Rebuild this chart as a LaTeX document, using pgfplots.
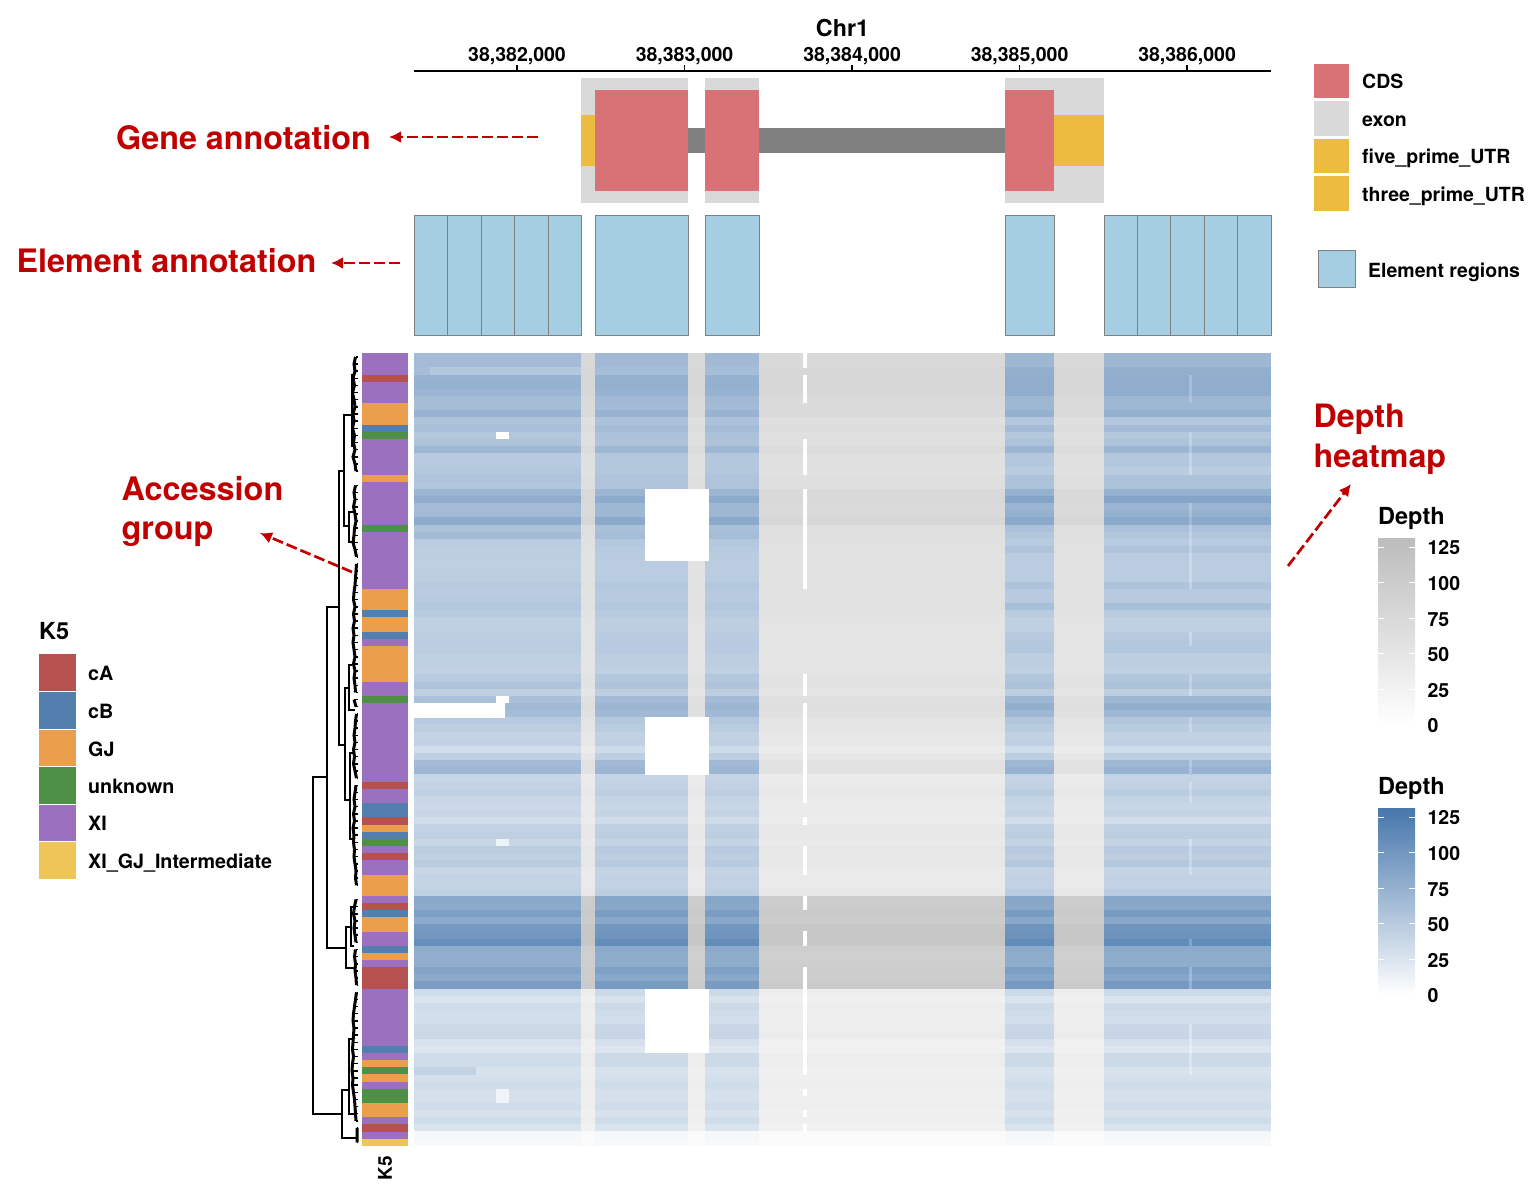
\documentclass[border=0pt]{standalone}
\usepackage{fontspec}
\setmainfont{TeX Gyre Heros}
\usepackage{pgfplots}
\usepackage{pgfplotstable}
\pgfplotsset{compat=1.18}
\usetikzlibrary{arrows.meta}
\definecolor{annot}{HTML}{C00000}
\definecolor{cds}{HTML}{D87276}
\definecolor{exon}{HTML}{D9D9D9}
\definecolor{utr}{HTML}{EBBC3F}
\definecolor{intron}{HTML}{808080}
\definecolor{elem}{HTML}{A6CEE3}
\definecolor{cA}{HTML}{B7514F}
\definecolor{cB}{HTML}{537FAE}
\definecolor{GJ}{HTML}{EB9E4C}
\definecolor{unk}{HTML}{4E9146}
\definecolor{XI}{HTML}{9B70BF}
\definecolor{XG}{HTML}{EFC557}
\newcommand\fs[1]{\fontsize{#1}{#1}\selectfont\bfseries}
\newcommand\cellmark[2]{\pgfdeclareplotmark{#1}{\pgfpathrectangle{\pgfpoint{-#2pt/2}{-3.72pt}}{\pgfpoint{#2pt}{7.44pt}}\pgfusepathqfill}}
\cellmark{cellA}{167}\cellmark{cellB}{14}\cellmark{cellC}{93}\cellmark{cellD}{17}\cellmark{cellE}{54}
\cellmark{cellF}{246}\cellmark{cellG}{49}\cellmark{cellH}{50}\cellmark{cellI}{167}
\cellmark{cellHole}{64}\cellmark{cellBar}{91}\cellmark{cellDot}{13}\cellmark{cellLine}{4.6}\cellmark{cellLeft}{16}\cellmark{cellSpan}{62}\cellmark{cellStreak}{2.5}
\newcommand\cellplot[4]{\addplot[scatter,only marks,mark=#1,scatter src=explicit,scatter/use mapped color={draw=none,fill=mapped color}] table[x expr=#2,y=i,meta=#3] {#4};}
\newcommand\rect[5]{\addplot[fill=#1,draw=none] coordinates {(#2,#3)(#4,#3)(#4,#5)(#2,#5)} --cycle;}
\newcommand\erect[2]{\addplot[fill=elem,draw=intron,line width=0.8pt] coordinates {(#1,0)(#2,0)(#2,120)(#1,120)} --cycle;}
\newcommand\seg[3]{\addplot[fill=#1,draw=none] coordinates {(0,#2)(1,#2)(1,#3)(0,#3)} --cycle;}
\newcommand\bracket[5]{\addplot[black,line width=2pt,line join=miter] coordinates {(#4,#2)(#1,#2)(#1,#3)(#5,#3)};}
\pgfplotstableread{
i a c g f
0 65 67 69 75
1 65 67 69 75
2 53 63 77 78
3 73 75 79 79
4 75 76 79 79
5 71 73 79 79
6 63 67 69 72
7 63 65 69 72
8 73 73 75 72
9 58 59 55 60
10 61 63 65 66
11 53 59 53 60
12 57 57 58 62
13 69 69 71 68
14 51 53 53 60
15 51 53 53 60
16 53 53 49 58
17 57 57 58 62
18 55 57 58 62
19 71 71 75 74
20 79 81 87 76
21 65 69 71 72
22 65 69 75 72
23 81 83 83 78
24 59 61 60 62
25 65 63 55 60
26 49 53 50 58
27 47 51 57 58
28 47 49 49 56
29 45 49 49 56
30 47 49 49 56
31 47 49 49 56
32 51 53 57 58
33 49 51 51 56
34 51 51 51 56
35 55 55 62 58
36 51 51 50 56
37 45 47 45 52
38 45 47 45 52
39 47 49 51 52
40 49 51 54 52
41 49 51 53 52
42 45 47 47 50
43 45 47 47 50
44 43 45 45 50
45 51 53 55 54
46 57 57 59 56
47 45 47 47 50
48 61 65 69 60
49 67 71 77 62
50 63 67 69 60
51 51 53 55 52
52 47 49 50 50
53 41 43 43 46
54 43 45 45 46
55 33 35 34 38
56 45 47 47 46
57 65 67 69 56
58 69 71 73 56
59 39 41 41 40
60 41 43 43 42
61 45 47 49 44
62 39 41 41 42
63 37 39 39 40
64 39 41 41 42
65 33 35 33 38
66 43 45 45 44
67 45 47 47 44
68 39 41 41 42
69 49 51 51 46
70 45 47 47 44
71 49 51 53 46
72 39 41 41 42
73 41 43 43 42
74 41 43 43 42
75 45 47 49 44
76 84 86 86 100
77 82 84 84 100
78 92 94 96 104
79 82 84 84 100
80 98 100 102 110
81 100 102 104 112
82 108 110 112 112
83 80 82 82 96
84 78 80 80 94
85 78 80 80 94
86 88 90 92 100
87 82 84 86 98
88 94 96 98 102
89 34 36 36 36
90 26 28 26 30
91 34 36 36 36
92 32 34 34 34
93 32 32 32 34
94 36 38 38 36
95 38 40 40 38
96 28 30 30 30
97 24 24 24 28
98 34 36 36 36
99 34 36 36 36
100 28 28 28 30
101 30 30 30 32
102 34 34 34 34
103 30 30 30 32
104 30 30 30 32
105 34 34 34 34
106 28 28 28 30
107 34 34 34 32
108 26 26 26 28
109 7 7 7 8
110 6 6 6 7
}\heat
% zero / low depth cells: rows, depth
\pgfplotstableread{
i d
19 0
20 0
21 0
22 0
23 0
24 0
25 0
26 0
27 0
28 0
51 0
52 0
53 0
54 0
55 0
56 0
57 0
58 0
89 0
90 0
91 0
92 0
93 0
94 0
95 0
96 0
97 0
}\holes
\pgfplotstableread{
i d
0 0
1 0
3 0
4 0
5 0
6 0
12 0
13 0
14 0
15 0
16 0
19 0
20 0
21 0
22 0
23 0
24 0
25 0
26 0
27 0
28 0
29 0
30 0
31 0
32 0
45 0
46 0
47 0
49 0
50 0
51 0
52 0
53 0
54 0
55 0
56 0
57 0
58 0
59 0
60 0
61 0
62 0
65 0
69 0
70 0
71 0
72 0
76 0
77 0
81 0
82 0
86 0
87 0
88 0
89 0
90 0
91 0
92 0
93 0
94 0
95 0
96 0
97 0
98 0
99 0
100 0
103 0
106 0
108 0
}\gapline
\pgfplotstableread{
i d
49 0
50 0
}\whitebar
\pgfplotstableread{
i d
11 0
48 0
68 12
103 10
104 10
}\dots
\pgfplotstableread{
i d
2 63
}\lefttip
\pgfplotstableread{
i d
100 42
}\spantip
% lighter narrow bin near 38,386,020
\pgfplotstableread{
i d
3 62
4 62
5 62
6 56
11 42
12 44
13 54
14 40
15 40
16 36
21 56
22 60
23 68
24 46
25 42
26 38
27 44
28 36
29 36
30 36
31 36
32 42
39 36
40 40
45 42
46 44
47 34
51 42
52 38
57 52
58 56
60 32
61 38
62 32
68 30
69 38
70 36
71 40
72 32
82 88
86 70
87 66
88 74
94 24
95 26
96 20
97 16
98 24
99 24
100 20
}\streak
% dendrogram leaves: row, height of the leaf branch
\pgfplotstableread{
y h
0.5 2.5
1.5 4
2.5 3
3.5 5
4.5 3.5
5.5 5.5
6.5 4
7.5 3
8.5 5
9.5 4
10.5 5.5
11.5 3.5
12.5 4.5
13.5 3
14.5 5
15.5 3
16.5 2
nan nan
18.5 2.5
19.5 4
20.5 3
21.5 4.5
22.5 3
23.5 2
24.5 3.5
25.5 4
26.5 5
27.5 3
28.5 1.5
nan nan
29.5 1.5
30.5 2
31.5 2.5
32.5 3
33.5 4
34.5 4.5
35.5 3
36.5 4.5
37.5 3.5
38.5 5
39.5 4
40.5 5
41.5 4
42.5 3
43.5 4.5
44.5 3
45.5 4
46.5 3
47.5 2.5
nan nan
48.5 4
49.5 2
nan nan
50.5 1.5
51.5 2.5
52.5 3
53.5 4
54.5 3
55.5 4.5
56.5 3.5
57.5 4.5
58.5 3
59.5 1.5
nan nan
60.5 2
61.5 3
62.5 4
63.5 3
64.5 4.5
65.5 3.5
66.5 5
67.5 4
68.5 4.5
69.5 3.5
70.5 4
71.5 3
72.5 2
73.5 2.5
74.5 1.5
nan nan
76.5 2
77.5 3.5
78.5 4.5
79.5 3
80.5 4
81.5 3
82.5 2
nan nan
83.5 2.5
84.5 3.5
85.5 2.5
86.5 3
87.5 2
88.5 1.5
nan nan
89.5 1.5
90.5 2.5
91.5 3.5
92.5 4.5
93.5 5
94.5 4
95.5 4.5
96.5 5
97.5 5.5
98.5 4.5
99.5 5.5
100.5 6
101.5 5
102.5 5.5
103.5 4.5
104.5 3.5
105.5 3
106.5 2.5
107.5 2
nan nan
108.5 1
109.5 1
110.5 1
}\leaves
\pgfplotsset{
  /pgf/number format/assume math mode=true,
  pane/.style={scale only axis,hide axis,clip=false},
  depthbar/.style={
    colorbar/width=37pt,
    colorbar style={
      width=37pt,height=188pt,
      at={(#1)},anchor=north west,
      ytick={0,25,50,75,100,125},
      ytick pos=both,yticklabel pos=right,
      tick align=inside,
      major tick length=6pt,
      tick style={draw=white,line width=0.8pt},
      axis line style={draw=none},
      yticklabel style={font=\fs{19.5},xshift=9pt,yshift=-1pt,/pgf/number format/assume math mode=true},
    }
  },
}
\begin{document}
\begin{tikzpicture}[x=1pt,y=1pt]
\useasboundingbox (0,0) rectangle (1540pt,-1194pt);
% ---------- page layer: legends and call-outs in pixel units
\begin{axis}[pane,width=1540pt,height=1194pt,at={(0pt,0pt)},anchor=north west,
  xmin=0,xmax=1540,ymin=0,ymax=1194,y dir=reverse]
\rect{cA}{39}{654}{76}{691}
\rect{cB}{39}{692}{76}{729}
\rect{GJ}{39}{729.5}{76}{766}
\rect{unk}{39}{767}{76}{804}
\rect{XI}{39}{804.5}{76}{841}
\rect{XG}{39}{842}{76}{879}
\rect{cds}{1314}{63.5}{1349}{98}
\rect{exon}{1314}{101}{1349}{135.5}
\rect{utr}{1314}{138.5}{1349}{173}
\rect{utr}{1314}{176}{1349}{210.5}
\addplot[fill=elem,draw=intron,line width=0.8pt] coordinates {(1318.5,250.5)(1355.5,250.5)(1355.5,287.5)(1318.5,287.5)} --cycle;
\node[anchor=west,inner sep=0pt,font=\fs{23.5}] at (39,631) {K5};
\node[anchor=west,inner sep=0pt,font=\fs{19.7}] at (88,673) {cA};
\node[anchor=west,inner sep=0pt,font=\fs{19.7}] at (88,711) {cB};
\node[anchor=west,inner sep=0pt,font=\fs{19.7}] at (88,749) {GJ};
\node[anchor=west,inner sep=0pt,font=\fs{19.7}] at (88,786) {unknown};
\node[anchor=west,inner sep=0pt,font=\fs{19.7}] at (88,823.5) {XI};
\node[anchor=west,inner sep=0pt,font=\fs{19.7}] at (88,863) {XI\_GJ\_Intermediate};
\node[anchor=west,inner sep=0pt,font=\fs{19.5}] at (1362,81) {CDS};
\node[anchor=west,inner sep=0pt,font=\fs{19.5}] at (1362,121) {exon};
\node[anchor=west,inner sep=0pt,font=\fs{19.5}] at (1362,158) {five\_prime\_UTR};
\node[anchor=west,inner sep=0pt,font=\fs{19.5}] at (1362,196) {three\_prime\_UTR};
\node[anchor=west,inner sep=0pt,font=\fs{19.5}] at (1368,272) {Element regions};
\node[anchor=west,inner sep=0pt,font=\fs{23.5}] at (1378,518) {Depth};
\node[anchor=west,inner sep=0pt,font=\fs{23.5}] at (1378,788) {Depth};
\node[rotate=90,inner sep=0pt,font=\fs{19}] at (385,1168) {K5};
\node[anchor=west,inner sep=0pt,font=\fs{32.3},text=annot] at (116,138) {Gene annotation};
\node[anchor=west,inner sep=0pt,font=\fs{32.3},text=annot] at (16.5,261) {Element annotation};
\node[anchor=west,inner sep=0pt,font=\fs{32.4},text=annot] at (121.5,489) {Accession};
\node[anchor=west,inner sep=0pt,font=\fs{32.4},text=annot] at (121.5,534) {group};
\node[anchor=west,inner sep=0pt,font=\fs{32.2},text=annot] at (1313.5,419) {Depth};
\node[anchor=west,inner sep=0pt,font=\fs{32.2},text=annot] at (1313.5,459) {heatmap};
\draw[annot,line width=2.7pt,dash pattern=on 11pt off 4pt,-{Latex[length=12pt,width=12pt]}] (538,137) -- (389,137);
\draw[annot,line width=2.7pt,dash pattern=on 11pt off 4pt,-{Latex[length=12pt,width=12pt]}] (400,263) -- (331,263);
\draw[annot,line width=2.7pt,dash pattern=on 11pt off 4pt,-{Latex[length=12pt,width=12pt]}] (352,572) -- (260,533);
\draw[annot,line width=2.7pt,dash pattern=on 11pt off 4pt,-{Latex[length=12pt,width=12pt]}] (1288,566) -- (1351,484);
\end{axis}
% ---------- genomic coordinate axis (x is bp above 38,380,000)
\begin{axis}[scale only axis,width=857pt,height=1pt,at={(414pt,-71pt)},anchor=north west,
  xmin=1385,xmax=6501,ymin=0,ymax=1,
  axis x line=top,axis y line=none,axis line style={-,line width=2pt,black},
  xtick={2000,3000,4000,5000,6000},
  xticklabels={{38,382,000},{38,383,000},{38,384,000},{38,385,000},{38,386,000}},
  tick align=outside,major tick length=6pt,tick style={black,line width=1pt},
  xticklabel style={font=\fs{19.5},yshift=-3pt},
  xlabel={Chr1},xlabel style={font=\fs{23.3},yshift=3pt}]
\addplot[draw=none] coordinates {(1385,0)(6501,1)};
\end{axis}
\begin{axis}[pane,width=857pt,height=6pt,at={(414pt,-65pt)},anchor=north west,
  xmin=1385,xmax=6501,ymin=0,ymax=1]
\addplot[black,line width=1.2pt,ycomb] coordinates {(2000,1)(3000,1)(4000,1)(5000,1)(6000,1)};
\end{axis}
% ---------- gene model
\begin{axis}[pane,width=857pt,height=125pt,at={(414pt,-78pt)},anchor=north west,
  xmin=1385,xmax=6501,ymin=0,ymax=125,y dir=reverse]
\rect{exon}{2382}{0}{3021}{125}
\rect{exon}{3122}{0}{3445}{125}
\rect{exon}{4913}{0}{5504}{125}
\rect{intron}{3021}{49.5}{3122}{75}
\rect{intron}{3445}{49.5}{4913}{75}
\rect{utr}{2382}{37}{2466}{88}
\rect{utr}{5206}{37}{5504}{88}
\rect{cds}{2466}{12}{3021}{112.7}
\rect{cds}{3122}{12}{3445}{112.7}
\rect{cds}{4913}{12}{5206}{112.7}
\end{axis}
% ---------- element regions
\begin{axis}[pane,width=857pt,height=120pt,at={(414pt,-215pt)},anchor=north west,
  xmin=1385,xmax=6501,ymin=0,ymax=120,y dir=reverse]
\erect{1385}{1585}\erect{1585}{1785}\erect{1785}{1985}\erect{1985}{2185}\erect{2185}{2382}
\erect{2466}{3021}\erect{3122}{3445}\erect{4913}{5206}
\erect{5504}{5704}\erect{5704}{5903}\erect{5903}{6103}\erect{6103}{6302}\erect{6302}{6501}
\end{axis}
% ---------- depth heatmap: untranslated / intronic bins in grey
\begin{axis}[pane,width=857pt,height=792.5pt,at={(414pt,-353.3pt)},anchor=north west,
  xmin=1385,xmax=6501,ymin=-0.5,ymax=110.5,y dir=reverse,
  point meta min=0,point meta max=132,
  colormap={greys}{rgb255(0)=(255,255,255) rgb255(1)=(188,188,188)},
  colorbar,depthbar={1.1249,0.7682}]
\cellplot{cellB}{2424}{f}{\heat}
\cellplot{cellD}{3071.5}{f}{\heat}
\cellplot{cellF}{4179}{f}{\heat}
\cellplot{cellH}{5355}{f}{\heat}
\end{axis}
% ---------- depth heatmap: element bins in blue
\begin{axis}[pane,width=857pt,height=792.5pt,at={(414pt,-353.3pt)},anchor=north west,
  xmin=1385,xmax=6501,ymin=-0.5,ymax=110.5,y dir=reverse,
  point meta min=0,point meta max=132,
  colormap={blues}{rgb255(0)=(255,255,255) rgb255(125)=(79,125,176) rgb255(132)=(72,119,172)},
  colorbar,depthbar={1.1249,0.4275}]
\cellplot{cellA}{1883.5}{a}{\heat}
\cellplot{cellC}{2743.5}{c}{\heat}
\cellplot{cellE}{3283.5}{c}{\heat}
\cellplot{cellG}{5059.5}{g}{\heat}
\cellplot{cellI}{6002.5}{g}{\heat}
\cellplot{cellStreak}{6021}{d}{\streak}
\cellplot{cellLeft}{1433}{d}{\lefttip}
\cellplot{cellSpan}{1570}{d}{\spantip}
\cellplot{cellHole}{2952}{d}{\holes}
\cellplot{cellBar}{1657}{d}{\whitebar}
\cellplot{cellDot}{1913}{d}{\dots}
\cellplot{cellLine}{3719.4}{d}{\gapline}
\end{axis}
% ---------- K5 annotation column
\begin{axis}[pane,width=46pt,height=792.5pt,at={(362pt,-353.3pt)},anchor=north west,
  xmin=0,xmax=1,ymin=0,ymax=111,y dir=reverse]
\seg{XI}{0}{3}\seg{cA}{3}{4}\seg{XI}{4}{7}\seg{GJ}{7}{10}\seg{cB}{10}{11}\seg{unk}{11}{12}
\seg{XI}{12}{17}\seg{GJ}{17}{18}\seg{XI}{18}{24}\seg{unk}{24}{25}\seg{XI}{25}{33}\seg{GJ}{33}{36}
\seg{cB}{36}{37}\seg{GJ}{37}{39}\seg{cB}{39}{40}\seg{XI}{40}{41}\seg{GJ}{41}{46}\seg{XI}{46}{48}
\seg{unk}{48}{49}\seg{XI}{49}{60}\seg{cA}{60}{61}\seg{XI}{61}{63}\seg{cB}{63}{65}\seg{cA}{65}{66}
\seg{GJ}{66}{67}\seg{cB}{67}{68}\seg{unk}{68}{69}\seg{XI}{69}{70}\seg{cA}{70}{71}\seg{XI}{71}{73}
\seg{GJ}{73}{76}\seg{XI}{76}{77}\seg{cA}{77}{78}\seg{cB}{78}{79}\seg{GJ}{79}{81}\seg{XI}{81}{83}
\seg{cB}{83}{84}\seg{GJ}{84}{85}\seg{XI}{85}{86}\seg{cA}{86}{89}\seg{XI}{89}{97}\seg{cB}{97}{98}
\seg{XI}{98}{99}\seg{GJ}{99}{100}\seg{unk}{100}{101}\seg{GJ}{101}{102}\seg{XI}{102}{103}\seg{unk}{103}{105}
\seg{GJ}{105}{107}\seg{XI}{107}{108}\seg{cA}{108}{109}\seg{XI}{109}{110}\seg{XG}{110}{111}
\end{axis}
% ---------- dendrogram
\begin{axis}[pane,width=46pt,height=792.5pt,at={(312pt,-353.3pt)},anchor=north west,
  xmin=0,xmax=46,x dir=reverse,ymin=0,ymax=111,y dir=reverse]
\bracket{45}{59.3}{106.5}{31.3}{16.3}
\bracket{31.3}{35.5}{83.3}{18.7}{12}
\bracket{18.7}{16.5}{54.9}{14}{13.5}
\bracket{14}{8.6}{24.2}{6.4}{9}
\bracket{6.4}{3}{13}{4}{4}
\bracket{9}{22.2}{26.4}{4}{3.5}
\bracket{13.5}{46.9}{62.6}{9.5}{8}
\bracket{9.5}{43.7}{50}{6}{3}
\bracket{8}{56}{68}{5}{4}
\bracket{12}{80.3}{86.1}{7}{4}
\bracket{7}{77.5}{83}{4}{4}
\bracket{16.3}{103.2}{109.9}{9}{1}
\bracket{9}{96}{106.5}{4}{4}
\addplot[black,line width=3pt,unbounded coords=jump] table[x=h,y=y] {\leaves};
\addplot[black,line width=1.5pt,xcomb] table[x=h,y=y] {\leaves};
\end{axis}
\end{tikzpicture}
\end{document}
